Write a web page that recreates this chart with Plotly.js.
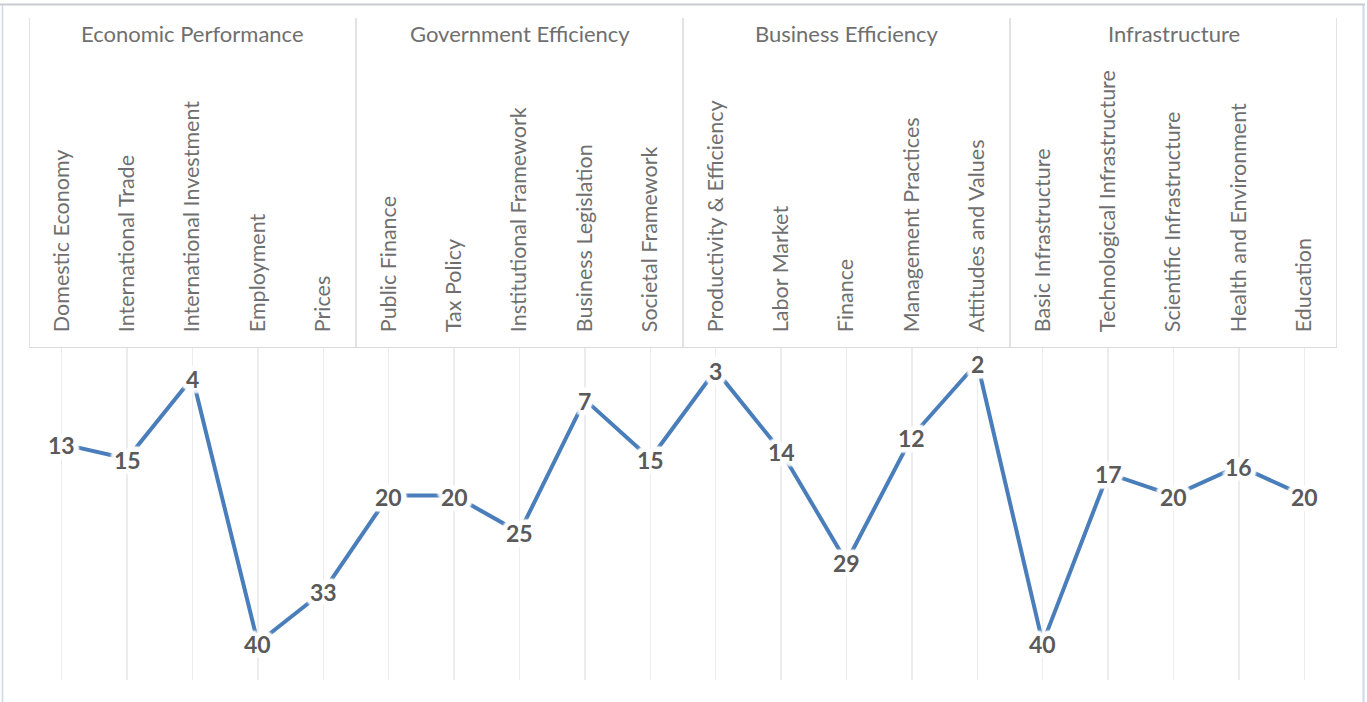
<!DOCTYPE html>
<html>
<head>
<meta charset="utf-8">
<script src="https://cdn.plot.ly/plotly-3.0.1.min.js"></script>
<style>
  html, body { margin: 0; padding: 0; background: #fff; }
  #chart { width: 1367px; height: 702px; }
</style>
</head>
<body>
<div id="chart"></div>
<script>
// ---- Data ----
const categories = [
  "Domestic Economy", "International Trade", "International Investment", "Employment", "Prices",
  "Public Finance", "Tax Policy", "Institutional Framework", "Business Legislation", "Societal Framework",
  "Productivity & Efficiency", "Labor Market", "Finance", "Management Practices", "Attitudes and Values",
  "Basic Infrastructure", "Technological Infrastructure", "Scientific Infrastructure", "Health and Environment", "Education"
];
const ranks = [13, 15, 4, 40, 33, 20, 20, 25, 7, 15, 3, 14, 29, 12, 2, 40, 17, 20, 16, 20];
const groups = ["Economic Performance", "Government Efficiency", "Business Efficiency", "Infrastructure"];
const groupSizes = [5, 5, 5, 5];

// ---- Geometry helpers (plot area: x 29..1337, y 348..680) ----
const W = 1367, H = 702;
const M = { l: 29, r: 30, t: 348, b: 22 };
const plotW = W - M.l - M.r, plotH = H - M.t - M.b;
const px2paperX = px => (px - M.l) / plotW;
const py2paperY = py => (H - M.b - py) / plotH;

const lineGrey = "#d9d9d9";
const shapes = [];
const annotations = [];

// table separators and group headers
let start = 0;
const bounds = [-0.5];
groupSizes.forEach((n, i) => {
  const end = start + n;
  bounds.push(end - 0.5);
  annotations.push({
    x: (start + end - 1) / 2, xref: "x",
    y: py2paperY(33), yref: "paper",
    text: groups[i], showarrow: false,
    xanchor: "center", yanchor: "middle",
    font: { family: "Lato, 'Open Sans', sans-serif", size: 22, color: "#6f6f6f" }
  });
  start = end;
});
bounds.forEach(b => {
  shapes.push({
    type: "line", xref: "x", yref: "paper",
    x0: b, x1: b, y0: 1, y1: py2paperY(18),
    line: { color: lineGrey, width: 1.5 }
  });
});

// outer frame lines
shapes.push({ type: "line", xref: "paper", yref: "paper",
  x0: px2paperX(0), x1: px2paperX(1365), y0: py2paperY(4.5), y1: py2paperY(4.5),
  line: { color: "#c9cbcf", width: 2 } });
shapes.push({ type: "line", xref: "paper", yref: "paper",
  x0: px2paperX(2.5), x1: px2paperX(2.5), y0: py2paperY(5), y1: py2paperY(702),
  line: { color: "#cad8ec", width: 1.5 } });
shapes.push({ type: "line", xref: "paper", yref: "paper",
  x0: px2paperX(1363.5), x1: px2paperX(1363.5), y0: py2paperY(5), y1: py2paperY(702),
  line: { color: "#cad8ec", width: 2 } });

// white halo built from offsets
const halo = [];
for (let a = 0; a < 16; a++) {
  const t = a * Math.PI / 8;
  halo.push(`${(5 * Math.cos(t)).toFixed(1)}px ${(5 * Math.sin(t)).toFixed(1)}px 2px #fff`);
}
halo.push("0 0 6px #fff", "0 0 8px #fff");
const haloCss = halo.join(", ");

// data labels, placed through the axes
ranks.forEach((v, i) => {
  annotations.push({
    x: categories[i], xref: "x",
    y: v, yref: "y",
    text: String(v), showarrow: false,
    xanchor: "center", yanchor: "middle",
    yshift: -1,
    font: { family: "Lato, 'Open Sans', sans-serif", size: 23, color: "#5a5a5a", weight: "bold", shadow: haloCss }
  });
});

const trace = {
  type: "scatter",
  mode: "lines",
  x: categories,
  y: ranks,
  line: { color: "#4a7ebb", width: 4 },
  cliponaxis: false,
  hoverinfo: "x+y"
};

const layout = {
  width: W, height: H,
  margin: M,
  paper_bgcolor: "#ffffff",
  plot_bgcolor: "#ffffff",
  showlegend: false,
  xaxis: {
    type: "category",
    range: [-0.5, categories.length - 0.5],
    side: "top",
    tickangle: -90,
    ticks: "",
    ticklabelstandoff: 10,
    tickfont: { family: "Lato, 'Open Sans', sans-serif", size: 21.5, color: "#6f6f6f" },
    showgrid: true, gridcolor: "#ececec", gridwidth: 1.5,
    showline: true, linecolor: lineGrey, linewidth: 1.5,
    zeroline: false, fixedrange: true
  },
  yaxis: {
    range: [45, 0],
    visible: false,
    showgrid: false, zeroline: false, fixedrange: true
  },
  shapes: shapes,
  annotations: annotations
};

Plotly.newPlot("chart", [trace], layout, { displayModeBar: false, staticPlot: true });
</script>
</body>
</html>
